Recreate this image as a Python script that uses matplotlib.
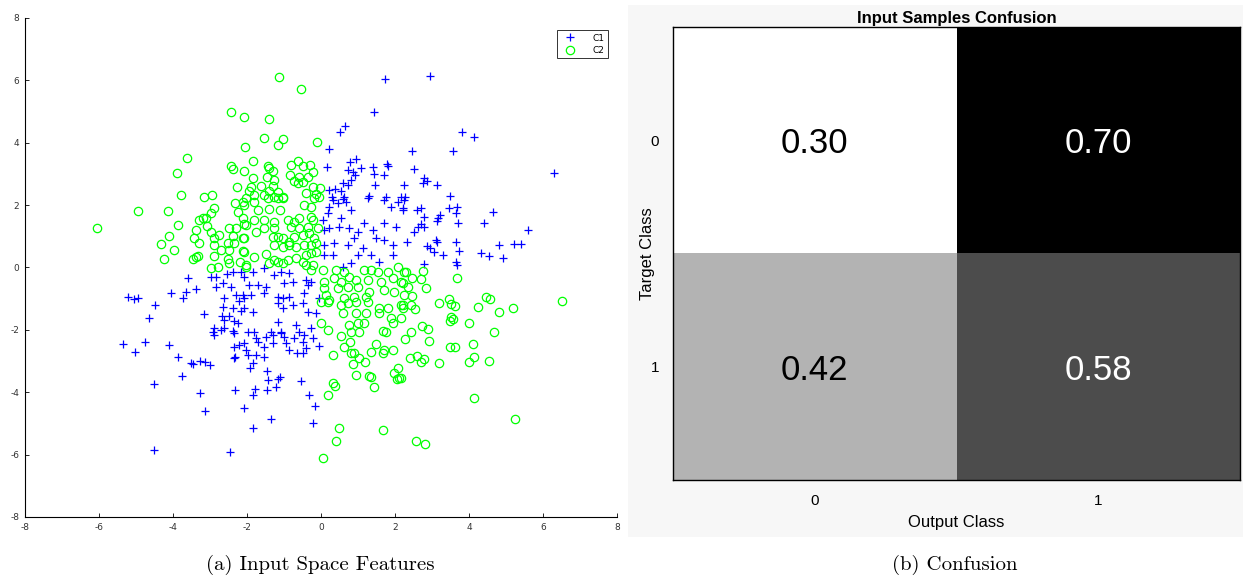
import matplotlib
matplotlib.use("Agg")
import numpy as np
from matplotlib import pyplot as plt
from matplotlib.patches import Rectangle

plt.rcParams["axes.unicode_minus"] = False

# class C1 (blue +)
c1_x = [1.73, 1.43, 0.65, 0.51, 0.22, 0.16, 0.95, 0.78, 0.73, 1.08, 0.86, 0.92, 1.41, 1.43, 1.78,
        1.81, 1.70, 0.81, 0.73, 0.59, 1.46, 2.24, 0.22, 0.38, 0.54, 1.30, 1.27, 1.76, 0.30, 0.62,
        2.16, 2.95, 3.81, 4.14, 2.46, 3.57, 2.51, 2.78, 2.86, 2.76, 3.14, 6.30, 3.49, 2.27,
        -3.59, -2.97, -2.84, -2.54, -2.38, -2.16, -2.08, -2.65, -2.84, -2.43, -3.38, -4.05, -3.65,
        -3.73, -5.22, -5.05, -4.95, -2.62, -2.30, -2.22, -2.08, -4.49, -2.65, -2.38, -2.16, -2.08,
        -4.65, -3.16, -2.68, -2.49, -2.35, -2.62, -2.24, -2.89, -2.70, -2.92, -2.38, -2.62,
        0.32, 0.59, 0.68, 1.70, 2.08, 0.22, 0.46, 0.81, 1.89, 2.22, 0.05, 0.19, 0.54, 0.49, 0.76,
        1.00, 1.16, 1.41, 1.70, 2.03, 0.08, 0.22, 0.89, 1.49, 1.70, 1.95, 0.08, 0.35, 0.73, 1.14,
        0.08, 0.32, 1.00, 1.35, 1.57, 1.95, 0.59, 0.81, -1.84, -1.54, -1.27, -1.08, -0.86, -1.95,
        -1.70, -1.49, -1.00, -0.76, -0.41, -0.35, -0.27, -1.89, -1.54, -1.16, -1.03, -0.86, -0.46,
        -0.05, -1.84, -1.16, -1.03, -0.76, -0.49, -0.14, -0.35, -1.16, -0.68, -0.27, -1.35, -1.08,
        -0.59, -1.81, -2.11,
        2.24, 2.22, 2.59, 2.70, 2.78, 3.16, 3.22, 3.14, 3.46, 3.68, 3.65, 3.70, 2.62, 2.70, 2.78,
        2.51, 2.32, 3.11, 3.14, 2.86, 2.95, 3.05, 3.30, 3.65, 3.73, 3.65, 3.68, 2.78, 4.41, 4.65,
        5.59, 4.81, 5.22, 5.41, 4.32, 4.54, 4.92,
        -2.35, -2.89, -5.35, -4.76, -5.03, -4.11, -3.86, -3.46, -3.51, -3.27, -3.14, -3.00, -2.35,
        -2.22, -2.08, -2.32, -2.35, -3.76, -4.51, -3.27, -2.32, -3.14, -2.08, -4.51, -2.46,
        -1.97, -1.76, -1.49, -1.30, -1.08, -1.00, -0.73, -0.46, -0.22, -1.70, -1.54, -1.30, -0.95,
        -0.49, -0.41, -0.86, -0.65, -0.49, -0.05, -2.03, -1.97, -1.76, -1.54, -1.84, -1.92, -1.46,
        -1.43, -1.16, -1.11, -1.22, -1.46, -1.78, -1.84, -0.54, -0.32, -0.16, -1.35, -1.84, -0.22]
c1_y = [6.04, 4.98, 4.54, 4.34, 3.80, 3.22, 3.48, 3.38, 3.12, 3.19, 3.06, 2.96, 3.22, 3.00, 3.32,
        3.25, 2.96, 2.80, 2.64, 2.71, 2.64, 2.64, 2.48, 2.52, 2.45, 2.29, 2.23, 2.26, 2.26, 2.26,
        2.26, 6.14, 4.34, 4.18, 3.73, 3.73, 3.16, 2.87, 2.77, 2.71, 2.64, 3.03, 2.29, 2.26,
        -0.34, -0.30, -0.30, -0.21, -0.14, -0.14, -0.30, -0.50, -0.62, -0.62, -0.69, -0.82, -0.79,
        -0.98, -0.95, -1.01, -0.98, -0.98, -0.88, -1.07, -0.98, -1.20, -1.27, -1.30, -1.39, -1.30,
        -1.62, -1.49, -1.55, -1.55, -1.71, -1.68, -1.78, -1.94, -2.00, -2.07, -2.04, -1.94,
        2.16, 2.20, 2.10, 2.16, 2.10, 1.94, 2.07, 1.84, 1.94, 1.84, 1.52, 1.75, 1.59, 1.30, 1.27,
        1.14, 1.43, 1.20, 1.43, 1.30, 1.20, 1.27, 0.95, 0.95, 0.88, 0.72, 0.72, 0.79, 0.72, 0.62,
        0.40, 0.40, 0.40, 0.40, 0.18, 0.40, 0.02, 0.14, -0.14, -0.02, -0.24, -0.14, -0.18, -0.56,
        -0.56, -0.62, -0.50, -0.46, -0.40, -0.56, -0.46, -0.88, -0.82, -0.95, -0.98, -0.95, -0.82,
        -0.98, -1.43, -1.14, -1.30, -1.20, -1.14, -1.46, -1.43, -1.75, -1.84, -1.94, -2.07, -2.07,
        -2.07, -2.07, -0.88,
        2.16, 1.91, 1.84, 1.91, 1.62, 1.59, 1.68, 1.49, 1.91, 1.94, 1.75, 1.43, 1.30, 1.39, 1.30,
        1.14, 0.82, 0.88, 0.82, 0.69, 0.62, 0.50, 0.40, 0.82, 0.53, 0.18, 0.08, 0.11, 1.43, 1.78,
        1.20, 0.72, 0.75, 0.75, 0.46, 0.37, 0.30,
        -2.10, -2.16, -2.45, -2.39, -2.71, -2.48, -2.87, -3.09, -3.06, -3.00, -3.03, -3.12, -2.55,
        -2.48, -2.42, -2.87, -2.90, -3.48, -3.73, -4.02, -3.93, -4.60, -4.50, -5.85, -5.91,
        -2.07, -2.26, -2.23, -2.16, -2.10, -2.23, -2.26, -2.16, -2.26, -2.39, -2.55, -2.42, -2.42,
        -2.39, -2.58, -2.64, -2.74, -2.74, -2.52, -2.64, -2.80, -2.80, -2.87, -3.06, -3.22, -3.32,
        -3.61, -3.57, -3.51, -3.83, -3.93, -3.89, -4.09, -3.64, -4.09, -4.44, -4.86, -5.15, -4.99]

# class C2 (green o)
c2_x = [-2.43, -2.08, -2.05, -3.62, -3.89, -2.43, -2.38, -2.08, -2.27, -3.78, -3.16, -2.95,
        -1.14, -0.54, -1.41, -1.54, -1.03, -1.16, -0.11, -1.84, -1.43, -1.41, -1.30, -1.46, -1.84,
        -1.27, -0.81, -0.62, -0.49, -0.30, -0.22, -0.35, -0.84, -0.59, -0.73, -0.62, -0.49, -1.62,
        -1.30, -1.89, -1.95, -1.41, -1.16, -0.22, -0.03, -0.41, -0.14, -1.81, -1.54, -1.27, -1.03,
        -0.05,
        -2.32, -2.11, -4.95, -4.14, -2.89, -2.97, -2.24, -3.19, -3.30, -3.11, -6.05, -3.86, -3.38,
        -3.08, -2.97, -2.76, -2.49, -2.30, -2.08, -4.11, -3.43, -2.89, -2.38, -2.11, -4.32, -3.30,
        -2.51, -2.35, -2.89, -2.70, -3.97, -2.49, -2.11, -4.24, -3.46, -3.38, -3.32, -2.89, -2.51,
        -2.49, -2.19, -2.97, -2.78, -2.03,
        -2.03, -1.81, -1.43, -1.16, -1.03, -0.19, -2.08, -1.70, -1.41, -1.11, -0.46, -0.27, -2.11,
        -1.81, -1.54, -1.27, -0.89, -0.73, -0.59, -0.27, -0.22, -2.03, -1.76, -1.54, -1.27, -0.81,
        -0.59, -0.35, -0.08, -2.08, -1.30, -1.16, -1.03, -0.86, -0.73, -0.49, -0.32, -0.19, -1.27,
        -1.03, -0.86, -0.68, -0.46, -0.27, -0.14, -2.08, -1.81, -1.49, -1.27, -0.89, -0.68, -0.41,
        -0.27, -0.14, -2.03, -1.41, -1.16, -1.03, -0.49, -0.41, -0.22,
        0.05, -0.27, 0.41, 0.62, 1.16, 1.35, 1.54, 1.81, 2.08, 2.24, 0.08, 0.35, 0.54, 0.76, 0.95,
        1.27, 1.62, 1.95, 2.16, 0.08, 0.46, 0.73, 1.00, 1.30, 1.70, 1.97, 0.14, 0.22, 0.62, 0.89,
        1.22, 0.00, 0.19, 0.54, 0.73, 0.95, 1.27, 1.57, 1.81, 2.16, 0.59, 0.95, 1.22, 1.57, 1.89,
        2.16, 0.00, 0.76, 1.00, 1.16, 1.95, 1.68, 0.81, 0.19,
        2.30, 2.76, 2.46, 2.70, 2.22, 2.35, 2.84, 2.46, 2.24, 3.19, 3.46, 3.51, 3.62, 2.22, 2.43,
        2.54, 2.22, 3.68, 4.46, 4.57, 4.24, 5.19, 4.81, 6.51, 3.51, 3.57, 3.49, 4.00, 2.73, 2.89,
        2.43, 4.68,
        0.54, 1.03, 1.76, 0.78, 0.62, 1.49, 0.32, 0.81, 0.89, 1.35, 1.70, 1.95, 1.68, 1.03, 0.86,
        1.19, 2.08, 1.97, 2.05, 2.11, 0.95, 1.30, 1.35, 1.43, 0.32, 0.38, 0.19, 0.49, 1.68, 0.41,
        0.05,
        2.27, 2.92, 3.49, 3.62, 4.11, 2.41, 2.59, 2.70, 2.78, 3.19, 4.00, 4.14, 4.54, 2.16, 4.14,
        5.24, 2.57, 2.81]
c2_y = [4.98, 4.82, 3.86, 3.51, 3.03, 3.25, 3.16, 3.09, 2.58, 2.32, 2.26, 2.32,
        6.11, 5.72, 4.76, 4.15, 4.12, 3.93, 4.02, 3.41, 3.25, 3.19, 3.09, 2.90, 2.87,
        2.80, 3.29, 3.41, 3.25, 3.29, 3.06, 2.90, 2.96, 2.90, 2.77, 2.71, 2.74, 2.61,
        2.61, 2.58, 2.45, 2.45, 2.42, 2.58, 2.55, 2.39, 2.36, 2.32, 2.32, 2.26, 2.26,
        2.26,
        2.07, 2.10, 1.81, 1.81, 1.91, 1.75, 1.78, 1.59, 1.52, 1.59, 1.27, 1.36, 1.20,
        1.33, 1.14, 1.04, 1.27, 1.27, 1.39, 1.01, 0.95, 0.95, 1.01, 0.95, 0.75, 0.79,
        0.79, 0.79, 0.72, 0.56, 0.56, 0.56, 0.53, 0.27, 0.27, 0.34, 0.37, 0.37, 0.27,
        0.14, 0.18, -0.02, 0.02, 0.02,
        2.23, 2.10, 2.23, 2.23, 2.23, 2.23, 2.00, 1.84, 1.88, 1.84, 2.00, 1.94, 1.59,
        1.52, 1.52, 1.46, 1.52, 1.46, 1.59, 1.62, 1.52, 1.36, 1.14, 1.27, 1.27, 1.30,
        1.27, 1.30, 1.27, 0.95, 0.98, 0.98, 0.95, 0.82, 0.98, 1.04, 1.11, 0.95, 0.72,
        0.66, 0.72, 0.66, 0.72, 0.72, 0.79, 0.50, 0.34, 0.43, 0.24, 0.24, 0.30, 0.40,
        0.46, 0.50, 0.08, 0.14, 0.18, 0.14, 0.18, 0.08, 0.08,
        -0.08, -0.08, -0.08, -0.14, -0.08, -0.08, -0.14, -0.14, 0.02, -0.14, -0.46, -0.34, -0.46,
        -0.30, -0.40, -0.40, -0.46, -0.34, -0.46, -0.66, -0.66, -0.62, -0.62, -0.79, -0.72, -0.79,
        -0.88, -1.04, -0.98, -0.95, -0.95, -1.11, -1.11, -1.20, -1.14, -1.11, -1.11, -1.30, -1.30,
        -1.20, -1.46, -1.46, -1.46, -1.46, -1.62, -1.62, -1.78, -1.84, -1.78, -1.78, -1.78, -2.04,
        -2.07, -2.00,
        -0.14, -0.11, -0.34, -0.37, -0.50, -0.62, -0.66, -0.91, -0.88, -1.14, -1.01, -1.17, -1.23,
        -1.20, -1.20, -1.33, -1.30, -0.34, -0.95, -1.01, -1.27, -1.30, -1.43, -1.07, -1.59, -1.65,
        -1.71, -1.78, -1.88, -1.97, -2.07, -2.07,
        -2.20, -2.07, -2.07, -2.39, -2.55, -2.45, -2.80, -2.74, -2.74, -2.71, -2.64, -2.64, -2.74,
        -2.90, -3.09, -3.03, -3.22, -3.38, -3.57, -3.54, -3.45, -3.48, -3.51, -3.83, -3.70, -3.80,
        -4.09, -5.15, -5.21, -5.56, -6.11,
        -2.29, -2.36, -2.55, -2.55, -2.45, -2.90, -2.84, -3.03, -2.93, -3.06, -3.03, -2.87, -3.00,
        -3.54, -4.18, -4.86, -5.56, -5.66]

# confusion matrix rates (rows: target class, cols: output class)
class_labels = ["0", "1"]
confusion = np.array([[0.30, 0.70],
                      [0.42, 0.58]])

fig = plt.figure(figsize=(12.43, 5.81), dpi=100)

# light panel behind the confusion plot
fig.patches.append(Rectangle((0.505, 0.076), 0.495, 0.915, transform=fig.transFigure,
                             facecolor="#f7f7f7", edgecolor="none", zorder=-10))

# --- scatter of the two input classes
ax1 = fig.add_axes([0.0201, 0.1102, 0.4763, 0.8589])
ax1.plot(c1_x, c1_y, "+", color="#0000ff", markersize=6, markeredgewidth=0.9, label="C1")
ax1.plot(c2_x, c2_y, "o", color="#00ff00", markerfacecolor="none", markersize=6,
         markeredgewidth=0.9, label="C2")
ax1.set_xlim(-8, 8)
ax1.set_ylim(-8, 8)
ax1.set_xticks(np.arange(-8, 9, 2))
ax1.set_yticks(np.arange(-8, 9, 2))
ax1.spines["top"].set_visible(False)
ax1.spines["right"].set_visible(False)
for s in ("left", "bottom"):
    ax1.spines[s].set_linewidth(0.8)
ax1.tick_params(direction="in", length=3, width=0.6, labelsize=6.5, labelcolor="#333333", pad=4)
leg = ax1.legend(loc="upper right", bbox_to_anchor=(0.985, 0.975), fontsize=6.5, frameon=True,
                 fancybox=False, edgecolor="black", borderaxespad=0, handlelength=2.0,
                 handletextpad=1.6, borderpad=0.35, labelspacing=0.35)
leg.get_frame().set_linewidth(0.7)

# --- confusion matrix
ax2 = fig.add_axes([0.5414, 0.1738, 0.4562, 0.7797])
ax2.imshow(confusion, cmap="gray_r", vmin=0.3, vmax=0.7, aspect="auto")
for i in range(confusion.shape[0]):
    for j in range(confusion.shape[1]):
        v = confusion[i, j]
        ax2.text(j, i, "%.2f" % v, ha="center", va="center_baseline", fontsize=25,
                 family="Liberation Sans", color="white" if v > 0.5 else "black")
ax2.set_xticks(range(len(class_labels)))
ax2.set_yticks(range(len(class_labels)))
ax2.set_xticklabels(class_labels, family="Liberation Sans")
ax2.set_yticklabels(class_labels, family="Liberation Sans", va="center_baseline")
ax2.tick_params(length=0, labelsize=11, pad=10)
ax2.set_xlabel("Output Class", family="Liberation Sans", fontsize=12, labelpad=5)
ax2.set_ylabel("Target Class", family="Liberation Sans", fontsize=12, labelpad=-3)
ax2.set_title("Input Samples Confusion", family="Liberation Sans", fontsize=12,
              fontweight="bold", pad=3)
for s in ax2.spines.values():
    s.set_linewidth(1.0)

# sub-figure captions
fig.text(0.2575, 0.027, "(a) Input Space Features", ha="center", va="center",
         family="cmr10", fontsize=15)
fig.text(0.7685, 0.027, "(b) Confusion", ha="center", va="center", family="cmr10", fontsize=15)

fig.savefig("out.png", dpi=100)
